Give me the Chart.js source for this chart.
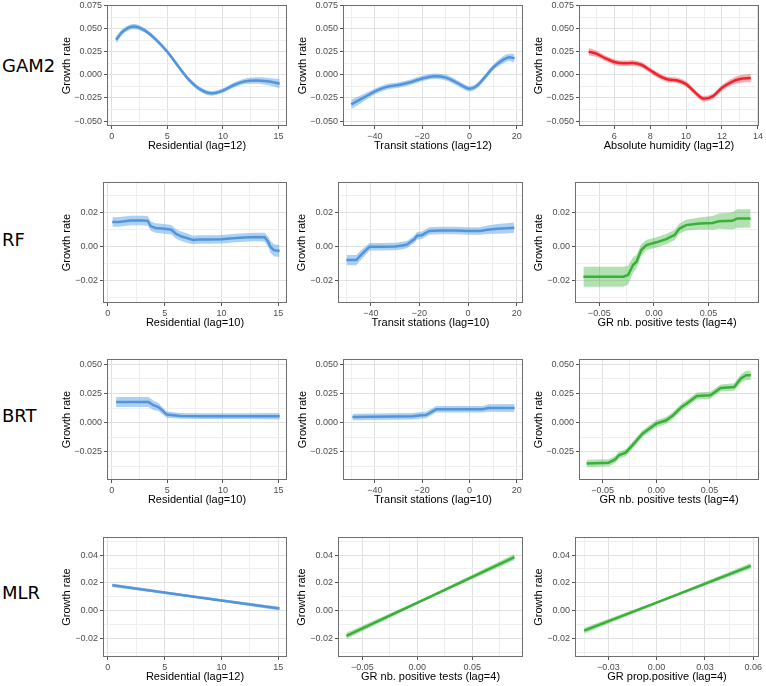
<!DOCTYPE html>
<html>
<head>
<meta charset="utf-8">
<script src="https://cdn.jsdelivr.net/npm/chart.js@4.4.0/dist/chart.umd.min.js"></script>
<style>
  body { margin: 0; background: #fff; width: 766px; height: 686px; position: relative; overflow: hidden; }
  canvas { position: absolute; }
  .model { position: absolute; left: 2px; font-family: "DejaVu Sans", sans-serif; font-size: 18px; line-height: 1; color: #000; transform: translateY(-50%); }
</style>
</head>
<body>
<script>
// ---- data ----
const models = ["GAM2", "RF", "BRT", "MLR"];

// GAM2
const gamResX = [0.4, 1, 2, 3, 4, 5, 6, 7, 8, 9, 10, 11, 12, 13, 14, 15.1];
const gamResY = [0.038, 0.047, 0.0525, 0.048, 0.038, 0.025, 0.009, -0.006, -0.016, -0.020, -0.017, -0.011, -0.007, -0.006, -0.007, -0.0095];
const gamResSe = [0.004, 0.003, 0.003, 0.0025, 0.0025, 0.0025, 0.0025, 0.0025, 0.0025, 0.0025, 0.0025, 0.0028, 0.003, 0.0035, 0.004, 0.005];

const gamTransitX = [-50, -45, -40, -35, -30, -25, -20, -15, -10, -5, 0, 3, 6, 10, 14, 17, 19];
const gamTransitY = [-0.032, -0.025, -0.018, -0.013, -0.011, -0.008, -0.004, -0.0015, -0.003, -0.009, -0.015, -0.012, -0.004, 0.008, 0.016, 0.019, 0.018];
const gamTransitSe = [0.005, 0.004, 0.003, 0.003, 0.003, 0.003, 0.003, 0.003, 0.003, 0.003, 0.003, 0.003, 0.003, 0.003, 0.004, 0.004, 0.005];

const gamHumX = [4.58, 5, 5.5, 6, 6.5, 7, 7.5, 8, 8.5, 9, 9.5, 10, 10.5, 11, 11.5, 12, 12.5, 13, 13.6];
const gamHumY = [0.025, 0.023, 0.018, 0.014, 0.0125, 0.0128, 0.011, 0.005, -0.001, -0.005, -0.006, -0.010, -0.019, -0.026, -0.023, -0.014, -0.008, -0.0045, -0.0035];
const gamHumSe = [0.004, 0.0035, 0.003, 0.003, 0.003, 0.003, 0.003, 0.003, 0.003, 0.003, 0.003, 0.003, 0.003, 0.003, 0.003, 0.003, 0.0035, 0.004, 0.0045];

// RF
const rfResX = [0.4, 1, 2, 3, 3.5, 3.8, 4.2, 5, 5.6, 6, 6.5, 7, 7.5, 8, 9, 10, 11, 12, 13, 13.8, 14.1, 14.3, 14.6, 15.1];
const rfResY = [0.0145, 0.0146, 0.0154, 0.0154, 0.0152, 0.012, 0.011, 0.0105, 0.010, 0.0075, 0.006, 0.005, 0.004, 0.0042, 0.0042, 0.0044, 0.005, 0.0055, 0.0057, 0.0056, 0.003, 0.0, -0.002, -0.0025];
const rfResSe = [0.0028, 0.0028, 0.0028, 0.0028, 0.0028, 0.0028, 0.0028, 0.0028, 0.0028, 0.0028, 0.0028, 0.0028, 0.0025, 0.0025, 0.0025, 0.0025, 0.0025, 0.0025, 0.0025, 0.0026, 0.003, 0.0035, 0.0035, 0.0035];

const rfTransitX = [-50, -46, -44, -42, -40.5, -35, -30, -27, -25, -22, -21, -19, -16, -12, -5, 0, 5, 8, 12, 16, 19];
const rfTransitY = [-0.0078, -0.0078, -0.0048, -0.002, 0, 0, 0.0002, 0.0008, 0.0014, 0.0045, 0.0065, 0.0068, 0.0093, 0.0095, 0.0096, 0.0092, 0.0092, 0.0100, 0.0105, 0.0108, 0.0112];
const rfTransitSe = [0.003, 0.003, 0.0028, 0.0025, 0.0022, 0.0022, 0.0022, 0.0022, 0.0022, 0.0022, 0.0022, 0.0022, 0.0022, 0.0022, 0.0022, 0.0022, 0.0022, 0.0025, 0.0028, 0.003, 0.003];

const rfTestsX = [-0.0645, -0.028, -0.0236, -0.0191, -0.016, -0.0115, -0.0069, 0.0022, 0.0113, 0.0158, 0.0188, 0.0234, 0.0295, 0.0415, 0.0536, 0.0597, 0.0718, 0.0764, 0.0885];
const rfTestsY = [-0.0176, -0.0176, -0.0166, -0.0107, -0.0088, -0.0019, 0.001, 0.0026, 0.0045, 0.0059, 0.0068, 0.0107, 0.0127, 0.0137, 0.014, 0.015, 0.0152, 0.0166, 0.0166];
const rfTestsSe = [0.0058, 0.0058, 0.0055, 0.0045, 0.004, 0.0035, 0.003, 0.003, 0.003, 0.003, 0.003, 0.003, 0.0032, 0.0035, 0.004, 0.0045, 0.005, 0.0054, 0.0054];

// BRT
const brtResX = [0.4, 3.3, 3.5, 3.75, 4.2, 4.6, 4.95, 6.2, 8, 10, 12, 15.1];
const brtResY = [0.0177, 0.0177, 0.0165, 0.0149, 0.0134, 0.010, 0.0069, 0.0057, 0.0055, 0.0055, 0.0055, 0.0054];
const brtResSe = [0.0043, 0.0043, 0.0042, 0.004, 0.0035, 0.003, 0.0027, 0.0025, 0.0025, 0.0025, 0.0025, 0.0028];

const brtTransitX = [-49.5, -24, -20.5, -18.4, -14.1, 5.6, 7.8, 19];
const brtTransitY = [0.0048, 0.0054, 0.0063, 0.0065, 0.0114, 0.0114, 0.0125, 0.0125];
const brtTransitSe = [0.0028, 0.0028, 0.0028, 0.0028, 0.0028, 0.0028, 0.0032, 0.0035];

const brtTestsX = [-0.0651, -0.0445, -0.0381, -0.035, -0.0286, -0.0222, -0.0128, 0, 0.0095, 0.0159, 0.0238, 0.028, 0.038, 0.0507, 0.0603, 0.073, 0.0793, 0.0841, 0.0885];
const brtTestsY = [-0.0352, -0.0344, -0.0315, -0.0281, -0.0258, -0.0195, -0.0095, -0.0009, 0.002, 0.0063, 0.0134, 0.016, 0.0229, 0.0235, 0.0298, 0.0306, 0.0378, 0.0406, 0.0406];
const brtTestsSe = [0.0032, 0.003, 0.003, 0.003, 0.003, 0.003, 0.003, 0.003, 0.003, 0.003, 0.003, 0.003, 0.003, 0.003, 0.003, 0.0032, 0.0036, 0.004, 0.004];

// MLR
const mlrResX = [0.4, 7.75, 15.1];
const mlrResY = [0.0182, 0.0098, 0.0014];
const mlrResSe = [0.0013, 0.0008, 0.0013];

const mlrTestsX = [-0.0645, 0.012, 0.0884];
const mlrTestsY = [-0.0183, 0.0101, 0.0385];
const mlrTestsSe = [0.0022, 0.0009, 0.0022];

const mlrPropX = [-0.045, 0.0068, 0.0585];
const mlrPropY = [-0.0145, 0.0088, 0.0322];
const mlrPropSe = [0.002, 0.0008, 0.002];

// tick labels
const yTicksGam = [-0.05, -0.025, 0, 0.025, 0.05, 0.075];
const yTicksRf = [-0.02, 0, 0.02];
const yTicksBrt = [-0.025, 0, 0.025, 0.05];
const yTicksMlr = [-0.02, 0, 0.02, 0.04];
const xTicksResidential = [0, 5, 10, 15];
const xTicksTransit = [-40, -20, 0, 20];
const xTicksHumidity = [6, 8, 10, 12, 14];
const xTicksTests = [-0.05, 0, 0.05];
const xTicksProp = [-0.03, 0, 0.03, 0.06];

// axis limits
const yLimGam = [-0.0554, 0.0757];
const yLimRf = [-0.033, 0.038];
const yLimBrt = [-0.0493, 0.0546];
const yLimMlr = [-0.0335, 0.053];
const xLimResidential = [-0.42, 15.76];
const xLimTransit = [-53.5, 22.6];
const xLimHumidity = [4.04, 14.06];
const xLimTests = [-0.0722, 0.0962];
const xLimProp = [-0.0507, 0.0636];

// ---- layout ----
const PAD_TOP = 8, PAD_RIGHT = 7, X_AXIS_H = 27;
const colRights = [287, 523, 759];
const rows = [
  { top: 5, bottom: 126, yw: 47, lefts: [107, 343, 579], label: 66, yTicks: yTicksGam, yLim: yLimGam, yDec: 3 },
  { top: 182, bottom: 303, yw: 43, lefts: [103, 338, 575], label: 240, yTicks: yTicksRf, yLim: yLimRf, yDec: 2 },
  { top: 359, bottom: 480, yw: 47, lefts: [107, 343, 579], label: 416, yTicks: yTicksBrt, yLim: yLimBrt, yDec: 3 },
  { top: 537, bottom: 657, yw: 43, lefts: [103, 338, 575], label: 593, yTicks: yTicksMlr, yLim: yLimMlr, yDec: 2 },
];

const palette = {
  blue: { line: "#377bc8", band: "rgba(105,172,235,0.55)" },
  green: { line: "#2eae2e", band: "rgba(70,180,70,0.42)" },
  red: { line: "#e8161c", band: "rgba(240,60,70,0.42)" },
};

const panels = [
  { row: 0, col: 0, x: gamResX, y: gamResY, se: gamResSe, hue: "blue", smooth: true, title: "Residential (lag=12)", xTicks: xTicksResidential, xLim: xLimResidential, xDec: 0 },
  { row: 0, col: 1, x: gamTransitX, y: gamTransitY, se: gamTransitSe, hue: "blue", smooth: true, title: "Transit stations (lag=12)", xTicks: xTicksTransit, xLim: xLimTransit, xDec: 0 },
  { row: 0, col: 2, x: gamHumX, y: gamHumY, se: gamHumSe, hue: "red", smooth: true, title: "Absolute humidity (lag=12)", xTicks: xTicksHumidity, xLim: xLimHumidity, xDec: 0 },
  { row: 1, col: 0, x: rfResX, y: rfResY, se: rfResSe, hue: "blue", title: "Residential (lag=10)", xTicks: xTicksResidential, xLim: xLimResidential, xDec: 0 },
  { row: 1, col: 1, x: rfTransitX, y: rfTransitY, se: rfTransitSe, hue: "blue", title: "Transit stations (lag=10)", xTicks: xTicksTransit, xLim: xLimTransit, xDec: 0 },
  { row: 1, col: 2, x: rfTestsX, y: rfTestsY, se: rfTestsSe, hue: "green", title: "GR nb. positive tests (lag=4)", xTicks: xTicksTests, xLim: xLimTests, xDec: 2 },
  { row: 2, col: 0, x: brtResX, y: brtResY, se: brtResSe, hue: "blue", title: "Residential (lag=10)", xTicks: xTicksResidential, xLim: xLimResidential, xDec: 0 },
  { row: 2, col: 1, x: brtTransitX, y: brtTransitY, se: brtTransitSe, hue: "blue", title: "Transit stations (lag=10)", xTicks: xTicksTransit, xLim: xLimTransit, xDec: 0 },
  { row: 2, col: 2, x: brtTestsX, y: brtTestsY, se: brtTestsSe, hue: "green", title: "GR nb. positive tests (lag=4)", xTicks: xTicksTests, xLim: xLimTests, xDec: 2 },
  { row: 3, col: 0, x: mlrResX, y: mlrResY, se: mlrResSe, hue: "blue", title: "Residential (lag=12)", xTicks: xTicksResidential, xLim: xLimResidential, xDec: 0 },
  { row: 3, col: 1, x: mlrTestsX, y: mlrTestsY, se: mlrTestsSe, hue: "green", title: "GR nb. positive tests (lag=4)", xTicks: xTicksTests, xLim: xLimTests, xDec: 2 },
  { row: 3, col: 2, x: mlrPropX, y: mlrPropY, se: mlrPropSe, hue: "green", title: "GR prop.positive (lag=4)", xTicks: xTicksProp, xLim: xLimProp, xDec: 2 },
];

Chart.defaults.font.family = '"Liberation Sans", Arial, sans-serif';
Chart.defaults.animation = false;

const fmt = (v, d) => (v < -1e-12 ? "\u2212" : "") + Math.abs(v).toFixed(d);
const isIn = (v, list) => list.some((m) => Math.abs(m - v) < 1e-9);

// majors plus ggplot-style minor breaks halfway between
const withMinor = (majors, lim) => {
  const step = majors[1] - majors[0];
  const all = [];
  for (let v = majors[0] - step; v <= majors[majors.length - 1] + step + 1e-12; v += step / 2) {
    if (v >= lim[0] - 1e-12 && v <= lim[1] + 1e-12) all.push({ value: +v.toFixed(6) });
  }
  return all;
};

const panelBorder = {
  id: "panelBorder",
  afterDraw(chart) {
    const { ctx, chartArea: a } = chart;
    ctx.save();
    ctx.strokeStyle = "#6e6e6e";
    ctx.lineWidth = 1;
    ctx.strokeRect(Math.round(a.left) + 0.5, Math.round(a.top) + 0.5, Math.round(a.right - a.left) - 1, Math.round(a.bottom - a.top) - 1);
    ctx.restore();
  },
};

const axisOpts = (majors, lim, dec, title, isY, size) => ({
  type: "linear",
  position: isY ? "left" : "bottom",
  min: lim[0],
  max: lim[1],
  afterBuildTicks: (s) => { s.ticks = withMinor(majors, lim); },
  afterFit: (s) => { if (isY) s.width = size; else s.height = size; },
  ticks: {
    autoSkip: false,
    maxRotation: 0,
    padding: 2,
    color: "#4d4d4d",
    font: { size: 9 },
    callback: (v) => (isIn(v, majors) ? fmt(v, dec) : ""),
  },
  grid: {
    color: (c) => (isIn(c.tick.value, majors) ? "#e0e0e0" : "#efefef"),
    lineWidth: 1,
    tickLength: 3,
    tickColor: (c) => (isIn(c.tick.value, majors) ? "#555" : "rgba(0,0,0,0)"),
  },
  border: { display: false },
  title: { display: true, text: title, color: "#000", font: { size: 11 }, padding: 0 },
});

models.forEach((m, i) => {
  const d = document.createElement("div");
  d.className = "model";
  d.textContent = m;
  d.style.top = rows[i].label + "px";
  document.body.appendChild(d);
});

panels.forEach((p) => {
  const r = rows[p.row];
  const left = r.lefts[p.col];
  const right = colRights[p.col];
  const canvas = document.createElement("canvas");
  canvas.width = r.yw + (right - left) + PAD_RIGHT;
  canvas.height = PAD_TOP + (r.bottom - r.top) + X_AXIS_H;
  canvas.style.left = left - r.yw + "px";
  canvas.style.top = r.top - PAD_TOP + "px";
  document.body.appendChild(canvas);

  const col = palette[p.hue];
  const hi = p.x.map((x, i) => ({ x, y: p.y[i] + p.se[i] }));
  const lo = p.x.map((x, i) => ({ x, y: p.y[i] - p.se[i] }));
  const mid = p.x.map((x, i) => ({ x, y: p.y[i] }));
  const curve = p.smooth ? { cubicInterpolationMode: "monotone" } : { tension: 0 };

  new Chart(canvas, {
    type: "line",
    data: {
      datasets: [
        { data: hi, borderWidth: 0, pointRadius: 0, fill: false, ...curve },
        { data: lo, borderWidth: 0, pointRadius: 0, fill: "-1", backgroundColor: col.band, ...curve },
        { data: mid, borderColor: col.line, borderWidth: 2.5, pointRadius: 0, fill: false, ...curve },
      ],
    },
    options: {
      responsive: false,
      devicePixelRatio: 1,
      events: [],
      layout: { padding: { top: PAD_TOP, right: PAD_RIGHT, left: 0, bottom: 0 } },
      plugins: { legend: { display: false }, tooltip: { enabled: false } },
      scales: {
        x: axisOpts(p.xTicks, p.xLim, p.xDec, p.title, false, X_AXIS_H),
        y: axisOpts(r.yTicks, r.yLim, r.yDec, "Growth rate", true, r.yw),
      },
    },
    plugins: [panelBorder],
  });
});
</script>
</body>
</html>
